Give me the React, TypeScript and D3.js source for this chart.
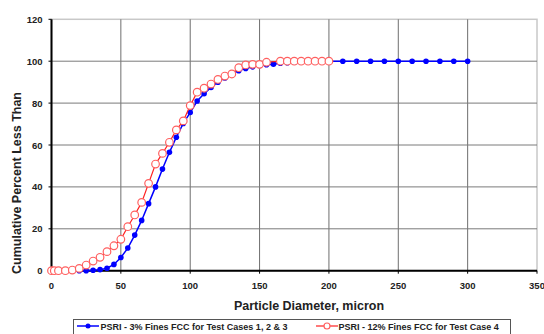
import React from 'react';
import * as d3 from 'd3';

// particle diameter (micron) / cumulative percent less than
const blueX = [20, 25, 30, 35, 40, 45, 50, 55, 60, 65, 70, 75, 80, 85, 90, 95, 100, 105, 110, 115, 120, 125, 130, 135, 140, 145, 150, 155, 160, 165, 170, 175, 180, 185, 190, 195, 200, 210, 220, 230, 240, 250, 260, 270, 280, 290, 300];
const blueY = [0, 0, 0.2, 0.5, 1.2, 3, 6.3, 10.8, 17, 24, 32, 40, 48.5, 56.5, 63.7, 70.3, 75.5, 81, 84.5, 87.5, 90, 92, 94, 95.5, 96.5, 97.3, 98, 98.3, 98.6, 99, 99.3, 99.5, 99.7, 99.8, 99.9, 100, 100, 100, 100, 100, 100, 100, 100, 100, 100, 100, 100];

const redX = [0, 2, 5, 10, 15, 20, 25, 30, 35, 40, 45, 50, 55, 60, 65, 70, 75, 80, 85, 90, 95, 100, 105, 110, 115, 120, 125, 130, 135, 140, 145, 150, 155, 165, 170, 175, 180, 185, 190, 195, 200];
const redY = [0, 0, 0, 0, 0.3, 1.1, 2.7, 4.6, 6.4, 9.1, 11.9, 15, 21, 26.6, 32.6, 41.7, 50.9, 56, 61.3, 67.2, 71.5, 78.8, 85.2, 87.1, 89.1, 91.3, 92.9, 93.9, 96.9, 98.2, 98.5, 98.5, 99.5, 100, 100, 100, 100, 100, 100, 100, 100];

const xTicks = [0, 50, 100, 150, 200, 250, 300, 350];
const yTicks = [0, 20, 40, 60, 80, 100, 120];

const blueLabel = 'PSRI - 3% Fines FCC for Test Cases 1, 2 & 3';
const redLabel = 'PSRI - 12% Fines FCC for Test Case 4';

const W = 544;
const H = 334;
const m = { left: 51.5, right: 537, top: 19.3, bottom: 270.7 };

const App = () => {
  const x = d3.scaleLinear().domain([0, 350]).range([m.left, m.right]);
  const y = d3.scaleLinear().domain([0, 120]).range([m.bottom, m.top]);

  const blue = blueX.map((d, i) => [d, blueY[i]] as [number, number]);
  const red = redX.map((d, i) => [d, redY[i]] as [number, number]);

  const line = d3.line<[number, number]>()
    .x(d => x(d[0]))
    .y(d => y(d[1]));

  const font = "'Liberation Sans', Arial, sans-serif";

  return (
    <svg width={W} height={H} style={{ position: 'absolute', left: 0, top: 0 }} fontFamily={font}>
      <rect width={W} height={H} fill="#fff" />
      {/* plot frame */}
      <rect x={m.left} y={m.top} width={m.right - m.left} height={m.bottom - m.top}
        fill="none" stroke="#c8c8c8" strokeWidth={1.5} />
      {/* grid */}
      {xTicks.filter(t => t > 0 && t < 350).map(t => (
        <line key={'gx' + t} x1={x(t)} x2={x(t)} y1={m.top} y2={m.bottom} stroke="#6e6e6e" strokeWidth={1} />
      ))}
      {yTicks.filter(t => t > 0 && t < 120).map(t => (
        <line key={'gy' + t} x1={m.left} x2={m.right} y1={y(t)} y2={y(t)} stroke="#7a7a7a" strokeWidth={1} />
      ))}
      {/* axes */}
      <line x1={m.left} x2={m.left} y1={m.top} y2={m.bottom + 1} stroke="#000" strokeWidth={2} />
      <line x1={m.left - 1} x2={m.right} y1={m.bottom} y2={m.bottom} stroke="#000" strokeWidth={2} />
      {xTicks.map(t => (
        <line key={'tx' + t} x1={x(t)} x2={x(t)} y1={m.bottom} y2={m.bottom + 3} stroke="#000" strokeWidth={1} />
      ))}
      {yTicks.map(t => (
        <line key={'ty' + t} x1={m.left - 3} x2={m.left} y1={y(t)} y2={y(t)} stroke="#000" strokeWidth={1} />
      ))}
      {/* tick labels */}
      {yTicks.map(t => (
        <text key={'ly' + t} x={42.5} y={y(t) + 3.5} textAnchor="end" fontSize={9.5} fontWeight="bold" fill="#222">{t}</text>
      ))}
      {xTicks.map(t => (
        <text key={'lx' + t} x={x(t)} y={289} textAnchor="middle" fontSize={9.5} fontWeight="bold" fill="#222">{t}</text>
      ))}
      {/* axis titles */}
      <text x={309} y={310} textAnchor="middle" fontSize={12.5} fontWeight="bold" fill="#222">Particle Diameter, micron</text>
      <text transform={`translate(21,183) rotate(-90)`} textAnchor="middle" fontSize={12.5} fontWeight="bold" fill="#222">Cumulative Percent Less Than</text>

      {/* series */}
      <path d={line(blue) || ''} fill="none" stroke="#0000ff" strokeWidth={1.5} />
      {blue.map((d, i) => (
        <circle key={'b' + i} cx={x(d[0])} cy={y(d[1])} r={2.8} fill="#0000ff" />
      ))}
      <path d={line(red) || ''} fill="none" stroke="#ff2020" strokeWidth={1.2} />
      {red.map((d, i) => (
        <circle key={'r' + i} cx={x(d[0])} cy={y(d[1])} r={3.8} fill="#fff" stroke="#ff6060" strokeWidth={1.2} />
      ))}

      {/* legend */}
      <rect x={73.5} y={319.5} width={437} height={20} fill="#fff" stroke="#555" strokeWidth={1} />
      <line x1={77} x2={99} y1={326} y2={326} stroke="#0000ff" strokeWidth={1.5} />
      <circle cx={88} cy={326} r={2.5} fill="#0000ff" />
      <text x={100.5} y={329.5} fontSize={9} fontWeight="bold" fill="#222">{blueLabel}</text>
      <line x1={316} x2={338} y1={326} y2={326} stroke="#ff2020" strokeWidth={1.2} />
      <circle cx={327} cy={326} r={3} fill="#fff" stroke="#ff6060" strokeWidth={1.2} />
      <text x={338.5} y={329.5} fontSize={9} fontWeight="bold" fill="#222">{redLabel}</text>
    </svg>
  );
};

export default App;
